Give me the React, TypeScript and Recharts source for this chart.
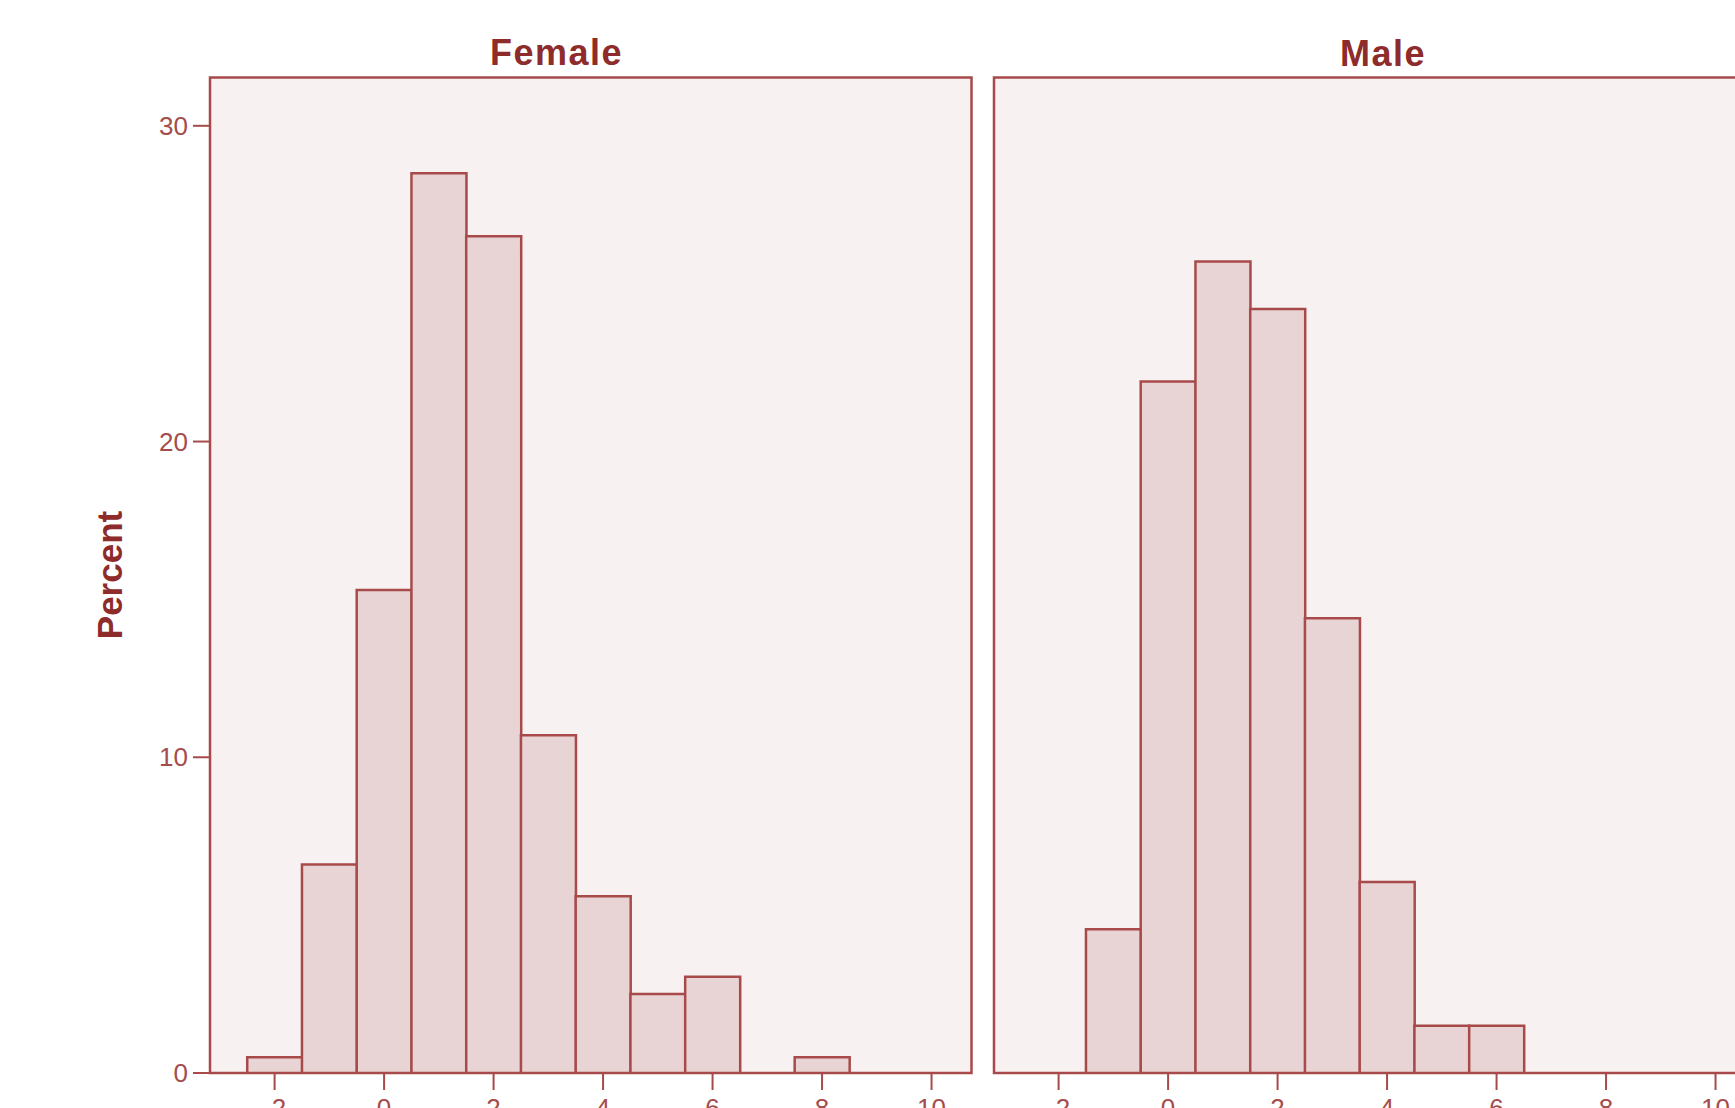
import React from 'react';
import { BarChart, Bar, XAxis, YAxis, CartesianGrid, ReferenceArea } from 'recharts';

// Histogram bins (bin centres) and percent per bin
const bins = [-2, -1, 0, 1, 2, 3, 4, 5, 6, 7, 8];
const femalePct = [0.5, 6.6, 15.3, 28.5, 26.5, 10.7, 5.6, 2.5, 3.05, 0, 0.5];
const malePct = [0, 4.55, 21.9, 25.7, 24.2, 14.4, 6.05, 1.5, 1.5, 0, 0];

const xTicks = [-2, 0, 2, 4, 6, 8, 10];
const yTicks = [0, 10, 20, 30];
const panels = ['Female', 'Male'];

const X_DOMAIN: [number, number] = [-3.18, 10.73];
const Y_DOMAIN: [number, number] = [0, 31.53];

const LINE = '#a84a4a';
const TEXT = '#8e2b2b';
const TICK_TEXT = '#a54c4c';
const BAR_FILL = '#e9d4d5';
const PANEL_BG = '#f7f1f1';

const femaleData = bins.map((b, i) => ({ bin: b, pct: femalePct[i] }));
const maleData = bins.map((b, i) => ({ bin: b, pct: malePct[i] }));

type PanelProps = {
  data: { bin: number; pct: number }[];
  showYTicks: boolean;
  width: number;
  left: number;
};

function Panel({ data, showYTicks, width, left }: PanelProps) {
  const yWidth = showYTicks ? 60 : 0;
  const marginLeft = showYTicks ? 150 : 20;
  return (
    <div style={{ position: 'absolute', left, top: 0 }}>
      <BarChart
        width={width}
        height={1108}
        data={data}
        margin={{ top: 77.5, right: 18.5, bottom: 5, left: marginLeft }}
        barCategoryGap={0}
        barGap={0}
      >
        <CartesianGrid horizontal={false} vertical={false} fill={PANEL_BG} />
        <XAxis
          dataKey="bin"
          type="number"
          domain={X_DOMAIN}
          ticks={xTicks}
          allowDataOverflow
          height={30}
          tickSize={17}
          tickMargin={9}
          tick={{ fontSize: 26, fill: TICK_TEXT }}
          stroke={LINE}
          strokeWidth={2}
        />
        <YAxis
          type="number"
          domain={Y_DOMAIN}
          ticks={yTicks}
          allowDataOverflow
          width={yWidth}
          tickSize={17}
          tickMargin={5}
          tick={showYTicks ? { fontSize: 26, fill: TICK_TEXT } : false}
          tickLine={showYTicks}
          stroke={LINE}
          strokeWidth={2}
        />
        <Bar
          dataKey="pct"
          fill={BAR_FILL}
          stroke={LINE}
          strokeWidth={2.5}
          isAnimationActive={false}
        />
        <ReferenceArea
          x1={X_DOMAIN[0]}
          x2={X_DOMAIN[1]}
          y1={Y_DOMAIN[0]}
          y2={Y_DOMAIN[1]}
          fill="none"
          fillOpacity={0}
          stroke={LINE}
          strokeWidth={2.5}
          ifOverflow="visible"
        />
      </BarChart>
    </div>
  );
}

export default function App() {
  return (
    <div
      style={{
        position: 'absolute',
        left: 0,
        top: 0,
        width: 1735,
        height: 1108,
        overflow: 'hidden',
        background: '#ffffff',
        fontFamily: '"Liberation Sans", Arial, sans-serif',
      }}
    >
      <Panel data={femaleData} showYTicks width={990} left={0} />
      <Panel data={maleData} showYTicks={false} width={800} left={973.6} />

      <div
        style={{
          position: 'absolute',
          left: 556.6 - 200,
          width: 400,
          top: 33,
          textAlign: 'center',
          fontSize: 36,
          fontWeight: 'bold',
          letterSpacing: 1.5,
          color: TEXT,
          lineHeight: '40px',
        }}
      >
        {panels[0]}
      </div>
      <div
        style={{
          position: 'absolute',
          left: 1383 - 200,
          width: 400,
          top: 34,
          textAlign: 'center',
          fontSize: 36,
          fontWeight: 'bold',
          letterSpacing: 1.5,
          color: TEXT,
          lineHeight: '40px',
        }}
      >
        {panels[1]}
      </div>
      <div
        style={{
          position: 'absolute',
          left: 110 - 100,
          top: 575 - 20,
          width: 200,
          height: 40,
          lineHeight: '40px',
          textAlign: 'center',
          transform: 'rotate(-90deg)',
          fontSize: 35,
          fontWeight: 'bold',
          color: TEXT,
        }}
      >
        Percent
      </div>
    </div>
  );
}
